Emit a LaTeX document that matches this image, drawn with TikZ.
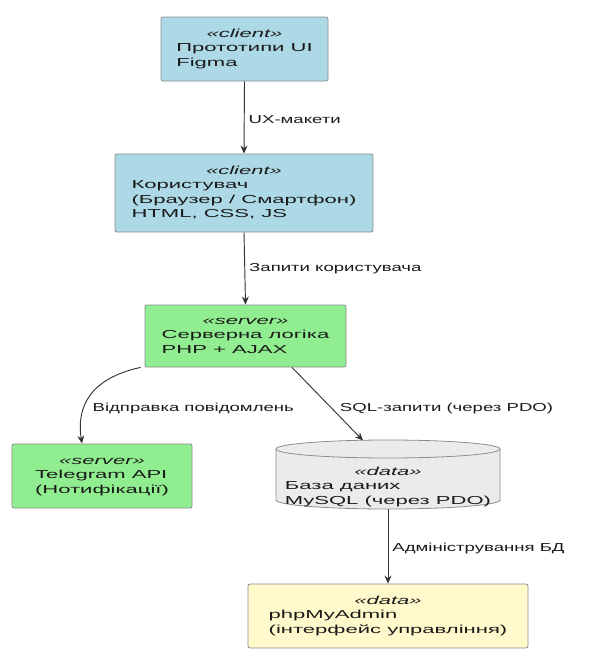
\documentclass[tikz,border=0pt]{standalone}
\usepackage{fontspec}
\setmainfont{Liberation Sans}
\newfontfamily\boxf[FakeStretch=1.9]{Liberation Sans}
\newfontfamily\labf[FakeStretch=1.6]{Liberation Sans}
\usetikzlibrary{arrows.meta,calc}
\definecolor{cli}{HTML}{ADD8E6}
\definecolor{srvc}{HTML}{90EE90}
\definecolor{dbc}{HTML}{EBEBEB}
\definecolor{pmac}{HTML}{FFF9CC}
\definecolor{edge}{HTML}{8C8C8C}
\definecolor{ink}{HTML}{1A1A1A}
\definecolor{arr}{HTML}{333333}
\tikzset{
  compbox/.style={draw=edge, line width=0.6pt, rounded corners=1.5pt, inner sep=0pt,
    text=ink, font=\boxf\fontsize{8.7}{10.9}\selectfont},
  dbtext/.style={inner sep=0pt, text=ink, font=\boxf\fontsize{8.7}{10.9}\selectfont},
  conn/.style={draw=arr, line width=0.7pt, -{Stealth[length=6pt,width=5.2pt]}},
  lab/.style={text=ink, font=\labf\fontsize{8.7}{10.9}\selectfont, inner sep=0pt, anchor=west}
}
\newcommand{\stereo}[1]{\multicolumn{1}{@{}c@{}}{\textit{«#1»}}}
\begin{document}
\begin{tikzpicture}[x=0.75pt,y=-0.75pt]
\useasboundingbox (0,0) rectangle (589,653);
% nodes
\node[compbox, fill=cli, minimum width=167*0.75pt, minimum height=64*0.75pt] (ui) at (244.5,49)
  {\begin{tabular}{@{}l@{}}\stereo{client}\\ Прототипи UI\\ Figma\end{tabular}};
\node[compbox, fill=cli, minimum width=258*0.75pt, minimum height=78*0.75pt] (user) at (244,193)
  {\begin{tabular}{@{}l@{}}\stereo{client}\\ Користувач\\ (Браузер / Смартфон)\\ HTML, CSS, JS\end{tabular}};
\node[compbox, fill=srvc, minimum width=201*0.75pt, minimum height=62*0.75pt] (srv) at (245.5,336)
  {\begin{tabular}{@{}l@{}}\stereo{server}\\ Серверна логіка\\ PHP + AJAX\end{tabular}};
\node[compbox, fill=srvc, minimum width=180*0.75pt, minimum height=64*0.75pt] (tg) at (102,476)
  {\begin{tabular}{@{}l@{}}\stereo{server}\\ Telegram API\\ (Нотифікації)\end{tabular}};
% cylinder
\fill[dbc] (276,449) -- (276,500) arc[start angle=180, end angle=360, x radius=84pt, y radius=6.75pt]
  -- (500,449) arc[start angle=0, end angle=180, x radius=84pt, y radius=6.75pt] -- cycle;
\draw[edge, line width=0.6pt] (276,449) -- (276,500) arc[start angle=180, end angle=360, x radius=84pt, y radius=6.75pt]
  -- (500,449) arc[start angle=0, end angle=180, x radius=84pt, y radius=6.75pt];
\draw[edge, line width=0.6pt] (276,449) arc[start angle=180, end angle=360, x radius=84pt, y radius=6.75pt];
\node[dbtext] (db) at (388,487)
  {\begin{tabular}{@{}l@{}}\stereo{data}\\ База даних\\ MySQL (через PDO)\end{tabular}};
\coordinate (dbtop) at (363,440.5);
\coordinate (dbbot) at (388,509);
\node[compbox, fill=pmac, minimum width=280*0.75pt, minimum height=64*0.75pt] (pma) at (388,616)
  {\begin{tabular}{@{}l@{}}\stereo{data}\\ phpMyAdmin\\ (інтерфейс управління)\end{tabular}};
% connectors
\draw[conn] (ui.south) -- node[lab, xshift=3pt, yshift=-1.5pt] {UX-макети} (user.north);
\draw[conn] (user.south) -- node[lab, xshift=3pt] {Запити користувача} (srv.north);
\draw[conn] ($(srv.south west)+(-4,0)$) .. controls (92,378) and (76,405) .. ($(tg.north)+(-20,0)$)
  node[lab, pos=0.5, xshift=1pt, yshift=-10pt] {Відправка повідомлень};
\draw[conn] ($(srv.south)+(46.5,0)$) -- node[lab, pos=0.5, xshift=9pt, yshift=-3.5pt] {SQL-запити (через PDO)} (dbtop);
\draw[conn] (dbbot) -- node[lab, xshift=3pt, yshift=-2pt] {Адміністрування БД} (pma.north);
\end{tikzpicture}
\end{document}
